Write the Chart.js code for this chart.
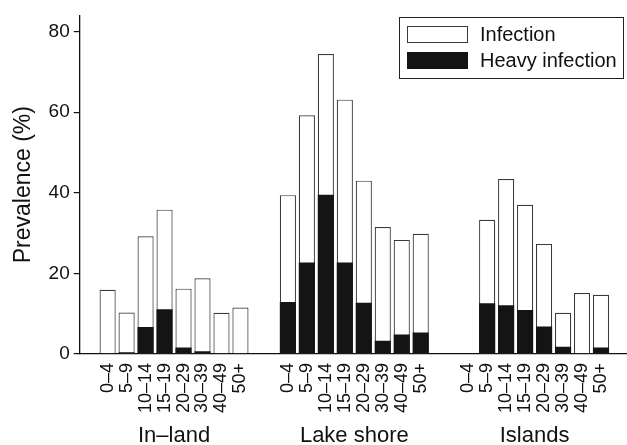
<!DOCTYPE html>
<html>
<head>
<meta charset="utf-8">
<script src="https://cdn.jsdelivr.net/npm/chart.js@4/dist/chart.umd.min.js"></script>
<style>
  html, body { margin: 0; padding: 0; background: #fff; }
  #wrap { width: 627px; height: 445px; }
</style>
</head>
<body>
<div id="wrap"><canvas id="prev"></canvas></div>
<script>
// age groups shown under each bar, regions under each block
const ageGroups = ['0–4', '5–9', '10–14', '15–19', '20–29', '30–39', '40–49', '50+'];
const regions = ['In–land', 'Lake shore', 'Islands'];

// prevalence (%)
const inlandInfection = [15.9, 10.3, 29.2, 35.8, 16.2, 18.8, 10.2, 11.5];
const inlandHeavy = [0, 0.4, 6.7, 11.1, 1.6, 0.7, 0, 0];
const lakeInfection = [39.4, 59.2, 74.4, 63.1, 43.0, 31.5, 28.3, 29.8];
const lakeHeavy = [12.9, 22.7, 39.5, 22.7, 12.7, 3.3, 4.8, 5.3];
const islandInfection = [0, 33.3, 43.4, 37.0, 27.3, 10.2, 15.1, 14.7];
const islandHeavy = [0, 12.6, 12.1, 10.9, 6.8, 1.8, 0, 1.6];

const yTicks = [0, 20, 40, 60, 80];

const GROUP_STEP = 9.5; // slots from one region block to the next
const FONT = "'Liberation Sans', Arial, sans-serif";

function toPoints(groups) {
  const pts = [];
  groups.forEach(function (vals, g) {
    vals.forEach(function (v, i) {
      pts.push({ x: g * GROUP_STEP + i, y: v });
    });
  });
  return pts;
}

const slotLabels = {};
regions.forEach(function (r, g) {
  ageGroups.forEach(function (a, i) { slotLabels[g * GROUP_STEP + i] = a; });
});
const regionCentres = regions.map(function (r, g) { return g * GROUP_STEP + (ageGroups.length - 1) / 2; });

// legend box in the top right corner + region names under the age labels
const extras = {
  id: 'extras',
  afterDraw(chart) {
    const ctx = chart.ctx;
    const ds = chart.data.datasets;
    ctx.save();
    ctx.lineWidth = 1;
    ctx.strokeStyle = '#222';
    ctx.strokeRect(399.5, 17.5, 224, 61);
    ctx.font = '20px ' + FONT;
    ctx.textBaseline = 'middle';
    [34, 60].forEach(function (cy, k) {
      ctx.fillStyle = ds[k].backgroundColor;
      ctx.fillRect(407, cy - 8, 61, 17);
      ctx.strokeStyle = ds[k].borderColor;
      ctx.strokeRect(407.5, cy - 7.5, 60, 16);
      ctx.fillStyle = '#111';
      ctx.fillText(ds[k].label, 480, cy + 1);
    });

    const xs = chart.scales.x;
    ctx.font = '22px ' + FONT;
    ctx.textAlign = 'center';
    ctx.textBaseline = 'alphabetic';
    regions.forEach(function (r, g) {
      ctx.fillText(r, xs.getPixelForValue(regionCentres[g]), 442);
    });
    ctx.restore();
  }
};

new Chart(document.getElementById('prev'), {
  type: 'bar',
  data: {
    datasets: [{
      label: 'Infection',
      data: toPoints([inlandInfection, lakeInfection, islandInfection]),
      backgroundColor: '#ffffff',
      borderColor: '#3a3a3a',
      borderWidth: 1.2,
      borderSkipped: 'bottom',
      grouped: false,
      order: 2
    }, {
      label: 'Heavy infection',
      data: toPoints([inlandHeavy, lakeHeavy, islandHeavy]),
      backgroundColor: '#141414',
      borderColor: '#141414',
      borderWidth: 0,
      grouped: false,
      order: 1
    }]
  },
  options: {
    responsive: true,
    maintainAspectRatio: false,
    animation: false,
    datasets: { bar: { barPercentage: 0.85, categoryPercentage: 1 } },
    layout: { padding: { top: 11, left: 10, right: 0, bottom: 23 } },
    plugins: { legend: { display: false }, tooltip: { enabled: false } },
    scales: {
      x: {
        type: 'linear',
        position: 'bottom',
        offset: false,
        min: -1.47,
        max: 27.37,
        grid: { display: false, drawTicks: false, offset: false },
        border: { display: true, color: '#111', width: 1.3 },
        afterBuildTicks(axis) {
          axis.ticks = Object.keys(slotLabels).map(function (k) { return { value: Number(k) }; });
        },
        afterFit(axis) {
          axis.paddingLeft = 0;
          axis.paddingRight = 0;
        },
        ticks: {
          autoSkip: false,
          minRotation: 90,
          maxRotation: 90,
          padding: 9,
          color: '#111',
          font: { family: FONT, size: 18 },
          callback: function (v) { return slotLabels[v]; }
        }
      },
      y: {
        min: 0,
        max: 84,
        grid: { drawOnChartArea: false, drawTicks: true, tickLength: 6, color: '#111', lineWidth: 1.2 },
        border: { display: true, color: '#111', width: 1.3 },
        afterBuildTicks(axis) {
          axis.ticks = yTicks.map(function (v) { return { value: v }; });
        },
        ticks: {
          padding: 4,
          color: '#111',
          font: { family: FONT, size: 19 }
        },
        title: {
          display: true,
          text: 'Prevalence (%)',
          color: '#111',
          padding: { top: 0, bottom: 7 },
          font: { family: FONT, size: 23 }
        }
      }
    }
  },
  plugins: [extras]
});
</script>
</body>
</html>
